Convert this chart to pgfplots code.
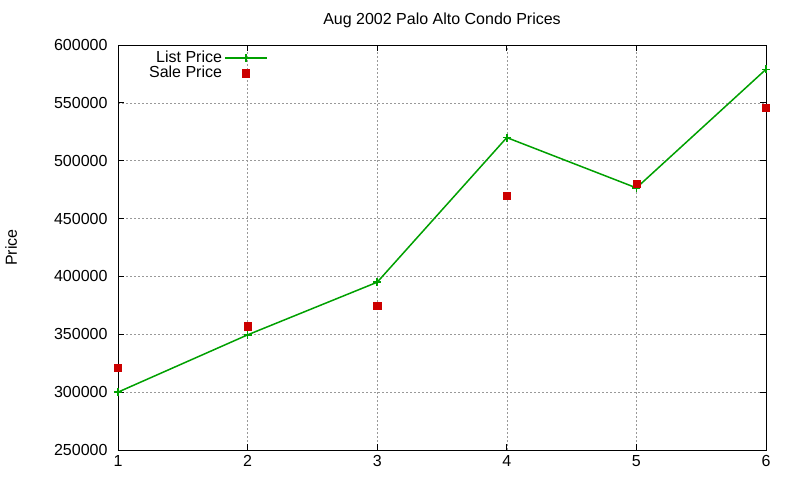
\documentclass[border=0pt]{standalone}
\usepackage{fontspec}
\setmainfont{Liberation Sans}
\usepackage{pgfplots}
\pgfplotsset{compat=1.18}
\definecolor{listgreen}{RGB}{0,160,0}
\definecolor{salered}{RGB}{204,0,0}
\pgfplotsset{
    listlegend/.style={legend image code/.code={\draw[mark repeat=2,mark phase=2,##1]
        plot coordinates {(0pt,0pt)(21pt,0pt)(42pt,0pt)};}},
    salelegend/.style={legend image code/.code={\draw[##1]
        plot coordinates {(21pt,0pt)};}},
}
\begin{document}
\fontsize{16}{18}\selectfont
\begin{tikzpicture}
\path[use as bounding box] (0,0) rectangle (800pt,480pt);
\begin{axis}[
    at={(118pt,30pt)}, anchor=south west,
    scale only axis, width=648pt, height=405pt,
    xmin=1, xmax=6, ymin=250000, ymax=600000,
    xtick={1,2,3,4,5,6},
    ytick={250000,300000,350000,400000,450000,500000,550000,600000},
    scaled y ticks=false,
    /pgf/number format/fixed,
    /pgf/number format/1000 sep={},
    /pgf/number format/assume math mode=true,
    grid=major,
    major grid style={gray!80, line width=0.6pt, dash pattern=on 2pt off 2pt},
    axis line style={line width=1pt},
    tick style={black, line width=1pt},
    major tick length=6pt,
    tick align=inside,
    yticklabel style={xshift=-5pt},
    title={Aug 2002 Palo Alto Condo Prices},
    title style={at={(axis description cs:0.5,1)}, anchor=center, yshift=19pt},
    ylabel={Price},
    ylabel style={at={(axis description cs:-0.165,0.5)}, anchor=center},
    legend style={draw=none, fill=none, at={(axis description cs:0.04,0.995)},
        anchor=north west, row sep=-3pt},
    legend cell align=right,
    legend plot pos=right,
]
\addplot[color=listgreen, line width=1.5pt, mark=+, mark size=4pt, listlegend]
    coordinates {
        (1,300000)
        (2,349500)
        (3,395000)
        (4,520000)
        (5,476500)
        (6,579000)
    };
\addplot[only marks, color=salered, mark=square*, mark size=3.6pt, salelegend]
    coordinates {
        (1,321000)
        (2,357000)
        (3,375000)
        (4,470000)
        (5,480000)
        (6,546000)
    };
\legend{List Price, Sale Price}
\end{axis}
\end{tikzpicture}
\end{document}
